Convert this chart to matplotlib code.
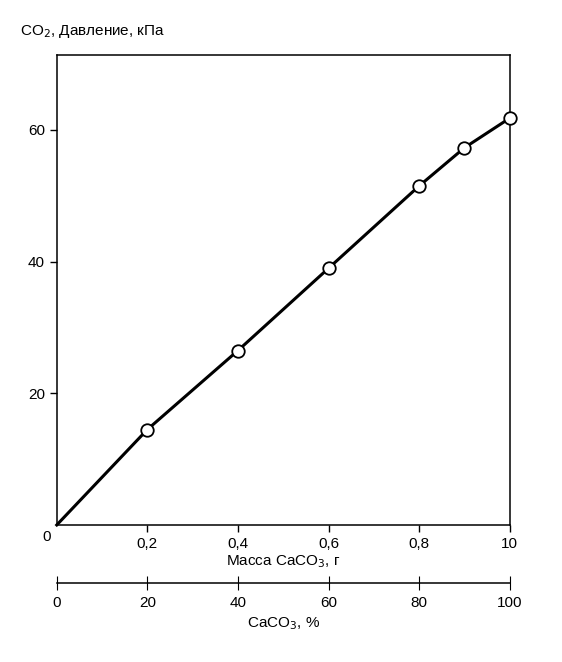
import matplotlib.pyplot as plt

plt.rcParams['font.family'] = ['Liberation Sans', 'DejaVu Sans']

# Data
mass = [0.0, 0.2, 0.4, 0.6, 0.8, 0.9, 1.0]
pressure = [0.0, 14.5, 26.5, 39.0, 51.5, 57.3, 61.8]
x_ticks = [0.2, 0.4, 0.6, 0.8, 1.0]
x_tick_labels = ["0,2", "0,4", "0,6", "0,8", "10"]
y_ticks = [20, 40, 60]
pct_ticks = [0, 20, 40, 60, 80, 100]

fig = plt.figure(figsize=(5.62, 6.62), dpi=100)
ax = fig.add_axes([0.101, 0.207, 0.806, 0.710])

ax.plot(mass, pressure, color="black", lw=2.2, zorder=2, clip_on=False)
ax.plot(mass[1:], pressure[1:], "o", ms=9, mfc="white", mec="black", mew=1.3,
        zorder=3, clip_on=False)

ax.set_xlim(0, 1.0)
ax.set_ylim(0, 71.4)
ax.set_xticks(x_ticks)
ax.set_xticklabels(x_tick_labels)
ax.set_yticks(y_ticks)
ax.tick_params(direction="out", length=5, labelsize=11, width=1)
for s in ax.spines.values():
    s.set_linewidth(1.1)
ax.set_xlabel("Масса CaCO$_3$, г", fontsize=11, labelpad=2)
fig.text(0.035, 0.94, "CO$_2$, Давление, кПа", fontsize=11, ha="left", va="bottom")
fig.text(0.083, 0.189, "0", fontsize=11, ha="center", va="center")

# secondary percentage axis
ax2 = fig.add_axes([0.101, 0.119, 0.806, 0.001])
ax2.set_xlim(0, 100)
ax2.set_xticks(pct_ticks)
ax2.set_yticks([])
for k in ("top", "left", "right"):
    ax2.spines[k].set_visible(False)
ax2.spines["bottom"].set_linewidth(1.1)
ax2.tick_params(axis="x", direction="inout", length=10, labelsize=11, pad=4)
ax2.set_xlabel("CaCO$_3$, %", fontsize=11, labelpad=4)

fig.savefig("out.png", dpi=100)
